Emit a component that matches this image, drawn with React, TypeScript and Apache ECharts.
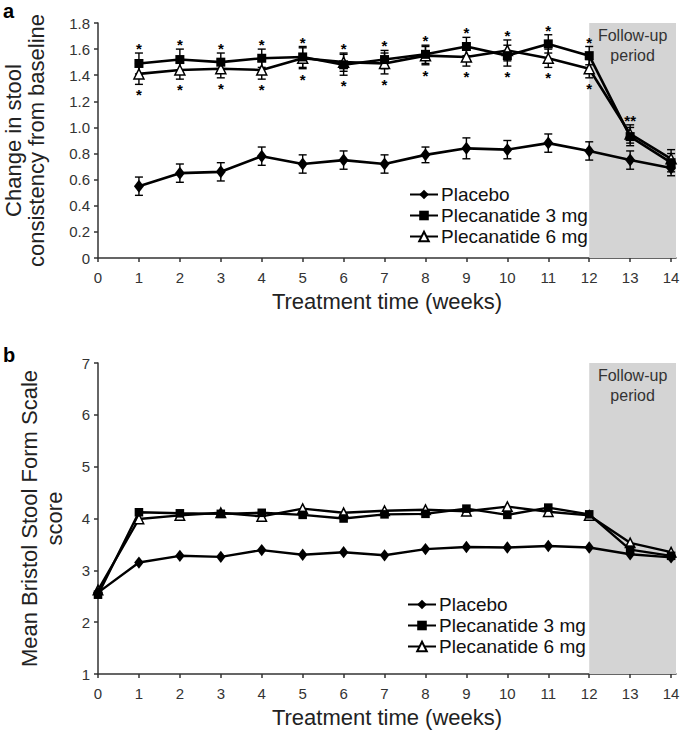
import React, { useEffect, useRef } from "react";
import * as echarts from "echarts";

const FONT = "'Liberation Sans', Arial, sans-serif";

// Panel a: change in stool consistency from baseline (weeks 1-14)
const weeksA = [1, 2, 3, 4, 5, 6, 7, 8, 9, 10, 11, 12, 13, 14];
const placeboA = [0.55, 0.65, 0.66, 0.78, 0.72, 0.75, 0.72, 0.79, 0.84, 0.83, 0.88, 0.82, 0.75, 0.69];
const plec3A = [1.49, 1.52, 1.5, 1.53, 1.54, 1.48, 1.52, 1.56, 1.62, 1.55, 1.64, 1.55, 0.93, 0.73];
const plec6A = [1.41, 1.44, 1.45, 1.44, 1.53, 1.5, 1.49, 1.55, 1.54, 1.59, 1.53, 1.45, 0.95, 0.76];
const placeboErrA = [0.07, 0.07, 0.07, 0.07, 0.07, 0.07, 0.07, 0.06, 0.08, 0.07, 0.07, 0.07, 0.07, 0.06];
const plec3ErrA = [0.08, 0.08, 0.07, 0.07, 0.08, 0.08, 0.07, 0.07, 0.07, 0.08, 0.07, 0.07, 0.07, 0.07];
const plec6ErrA = [0.08, 0.07, 0.07, 0.07, 0.08, 0.07, 0.08, 0.07, 0.07, 0.08, 0.07, 0.07, 0.07, 0.07];
const starAboveWeeks = [1, 2, 3, 4, 5, 6, 7, 8, 9, 10, 11, 12, 13];
const starAboveLabels = ["*", "*", "*", "*", "*", "*", "*", "*", "*", "*", "*", "*", "**"];
const starBelowWeeks = [1, 2, 3, 4, 5, 6, 7, 8, 9, 10, 11, 12];

// Panel b: mean Bristol Stool Form Scale score (weeks 0-14)
const weeksB = [0, 1, 2, 3, 4, 5, 6, 7, 8, 9, 10, 11, 12, 13, 14];
const placeboB = [2.57, 3.15, 3.28, 3.26, 3.39, 3.3, 3.35, 3.29, 3.41, 3.45, 3.44, 3.47, 3.44, 3.31, 3.25];
const plec3B = [2.53, 4.12, 4.1, 4.09, 4.11, 4.07, 4.0, 4.08, 4.09, 4.19, 4.07, 4.21, 4.08, 3.4, 3.28];
const plec6B = [2.62, 3.99, 4.06, 4.11, 4.04, 4.19, 4.11, 4.15, 4.17, 4.14, 4.23, 4.13, 4.06, 3.53, 3.35];

const xTicks = [0, 1, 2, 3, 4, 5, 6, 7, 8, 9, 10, 11, 12, 13, 14];
const seriesNames = ["Placebo", "Plecanatide 3 mg", "Plecanatide 6 mg"];

export default function App() {
  const ref = useRef<HTMLDivElement>(null);
  useEffect(() => {
    if (!ref.current) return;
    const chart = echarts.init(ref.current, undefined, { renderer: "svg" });

    const styles = [
      { symbol: "diamond", size: [10, 13], color: "#000" },
      { symbol: "rect", size: 9, color: "#000" },
      { symbol: "triangle", size: 10, color: "#fff" },
    ];

    const lineSeries = (name: string, idx: number, xs: number[], ys: number[], axis: number, lw: number, sizeScale: number) => {
      const st = styles[idx];
      const size = Array.isArray(st.size) ? st.size.map((s: number) => s * sizeScale) : (st.size as number) * sizeScale;
      return {
        type: "line",
        name,
        xAxisIndex: axis,
        yAxisIndex: axis,
        data: xs.map((x, i) => [x, ys[i]]),
        symbol: st.symbol,
        symbolSize: size,
        showAllSymbol: true,
        z: 5 + (2 - idx),
        lineStyle: { color: "#000", width: lw },
        itemStyle: { color: st.color, borderColor: "#000", borderWidth: idx === 2 ? 1.5 : 0 },
        emphasis: { disabled: true },
      };
    };

    const errSeries = (ys: number[], errs: number[]) => ({
      type: "custom",
      xAxisIndex: 0,
      yAxisIndex: 0,
      z: 3,
      silent: true,
      data: weeksA.map((w, i) => [w, ys[i] - errs[i], ys[i] + errs[i]]),
      encode: { x: 0, y: [1, 2] },
      renderItem: (params: any, api: any) => {
        const x = api.value(0);
        const p1 = api.coord([x, api.value(1)]);
        const p2 = api.coord([x, api.value(2)]);
        const cap = 4;
        const st = { stroke: "#000", lineWidth: 1.4 };
        return {
          type: "group",
          children: [
            { type: "line", shape: { x1: p1[0], y1: p1[1], x2: p2[0], y2: p2[1] }, style: st },
            { type: "line", shape: { x1: p1[0] - cap, y1: p1[1], x2: p1[0] + cap, y2: p1[1] }, style: st },
            { type: "line", shape: { x1: p2[0] - cap, y1: p2[1], x2: p2[0] + cap, y2: p2[1] }, style: st },
          ],
        };
      },
    });

    const starData: number[][] = [];
    const starText: string[] = [];
    starAboveWeeks.forEach((w, k) => {
      const i = weeksA.indexOf(w);
      const top = Math.max(plec3A[i] + plec3ErrA[i], plec6A[i] + plec6ErrA[i]);
      starData.push([w, top + 0.065]);
      starText.push(starAboveLabels[k]);
    });
    starBelowWeeks.forEach((w) => {
      const i = weeksA.indexOf(w);
      const bot = Math.min(plec3A[i] - plec3ErrA[i], plec6A[i] - plec6ErrA[i]);
      starData.push([w, bot - 0.05]);
      starText.push("*");
    });

    const axisLineStyle = { color: "#333", width: 1.5 };

    const xAxisCommon = {
      type: "value",
      min: 0,
      max: 14.12,
      interval: 1,
      axisLine: { show: true, lineStyle: axisLineStyle },
      axisTick: { show: true, length: 4, lineStyle: axisLineStyle, customValues: xTicks },
      axisLabel: { fontSize: 15, fontFamily: FONT, color: "#333", margin: 12, customValues: xTicks },
      splitLine: { show: false },
      name: "Treatment time (weeks)",
      nameLocation: "middle",
      nameGap: 32,
      nameTextStyle: { fontSize: 22, fontFamily: FONT, color: "#222" },
    };

    const shadeArea = (top: number, bottom: number) => ({
      silent: true,
      itemStyle: { color: "#d4d4d4" },
      label: {
        show: true,
        position: "insideTop",
        distance: 2,
        formatter: "Follow-up\nperiod",
        fontSize: 16,
        lineHeight: 20,
        fontFamily: FONT,
        color: "#333",
      },
      data: [[{ xAxis: 12, yAxis: top }, { xAxis: 14.12, yAxis: bottom }]],
    });

    const legendCommon = {
      orient: "vertical",
      itemGap: 2,
      itemWidth: 28,
      itemHeight: 12,
      data: seriesNames,
      selectedMode: false,
      textStyle: { fontSize: 19, fontFamily: FONT, color: "#111", lineHeight: 19, padding: [0, 0, 0, -2] },
    };

    const option: any = {
      animation: false,
      backgroundColor: "#fff",
      textStyle: { fontFamily: FONT },
      grid: [
        { left: 98, top: 23, width: 578, height: 235, outerBoundsMode: "none", containLabel: false },
        { left: 98, top: 363, width: 578, height: 311, outerBoundsMode: "none", containLabel: false },
      ],
      xAxis: [
        { ...xAxisCommon, gridIndex: 0 },
        { ...xAxisCommon, gridIndex: 1 },
      ],
      yAxis: [
        {
          type: "value",
          gridIndex: 0,
          min: 0,
          max: 1.8,
          interval: 0.2,
          axisLine: { show: true, lineStyle: axisLineStyle },
          axisTick: { show: true, length: 4, lineStyle: axisLineStyle },
          axisLabel: {
            fontSize: 15,
            fontFamily: FONT,
            color: "#333",
            margin: 8,
            formatter: (v: number) => (v === 0 ? "0" : v.toFixed(1)),
          },
          splitLine: { show: false },
          name: "Change in stool\nconsistency from baseline",
          nameLocation: "middle",
          nameGap: 50,
          nameTextStyle: { fontSize: 22, lineHeight: 23, fontFamily: FONT, color: "#222" },
        },
        {
          type: "value",
          gridIndex: 1,
          min: 1,
          max: 7,
          interval: 1,
          axisLine: { show: true, lineStyle: axisLineStyle },
          axisTick: { show: true, length: 4, lineStyle: axisLineStyle },
          axisLabel: { fontSize: 15, fontFamily: FONT, color: "#333", margin: 8 },
          splitLine: { show: false },
          name: "Mean Bristol Stool Form Scale\nscore",
          nameLocation: "middle",
          nameGap: 31,
          nameTextStyle: { fontSize: 22, lineHeight: 25, fontFamily: FONT, color: "#222" },
        },
      ],
      legend: [
        { ...legendCommon, left: 404, top: 180 },
        { ...legendCommon, left: 402, top: 590 },
      ],
      graphic: [
        { type: "text", left: 3, top: 1, style: { text: "a", fontSize: 20, fontWeight: "bold", fontFamily: FONT, fill: "#000" } },
        { type: "text", left: 3, top: 345, style: { text: "b", fontSize: 20, fontWeight: "bold", fontFamily: FONT, fill: "#000" } },
      ],
      series: [
        { type: "line", name: "shadeA", xAxisIndex: 0, yAxisIndex: 0, data: [], z: 1, markArea: shadeArea(1.8, 0) },
        { type: "line", name: "shadeB", xAxisIndex: 1, yAxisIndex: 1, data: [], z: 1, markArea: shadeArea(7, 1) },
        errSeries(placeboA, placeboErrA),
        errSeries(plec3A, plec3ErrA),
        errSeries(plec6A, plec6ErrA),
        lineSeries(seriesNames[0], 0, weeksA, placeboA, 0, 2.6, 1),
        lineSeries(seriesNames[1], 1, weeksA, plec3A, 0, 2.6, 1),
        lineSeries(seriesNames[2], 2, weeksA, plec6A, 0, 2.6, 1),
        lineSeries(seriesNames[0], 0, weeksB, placeboB, 1, 2.4, 0.95),
        lineSeries(seriesNames[1], 1, weeksB, plec3B, 1, 2.4, 0.95),
        lineSeries(seriesNames[2], 2, weeksB, plec6B, 1, 2.4, 0.95),
        {
          type: "custom",
          name: "stars",
          xAxisIndex: 0,
          yAxisIndex: 0,
          z: 9,
          silent: true,
          data: starData,
          encode: { x: 0, y: 1 },
          renderItem: (params: any, api: any) => {
            const p = api.coord([api.value(0), api.value(1)]);
            return {
              type: "text",
              x: p[0],
              y: p[1] + 4,
              style: {
                text: starText[params.dataIndex],
                fontSize: 15,
                fontWeight: "bold",
                fontFamily: FONT,
                fill: "#000",
                align: "center",
                verticalAlign: "middle",
              },
            };
          },
        },
      ],
    };

    chart.setOption(option);
    return () => chart.dispose();
  }, []);

  return (
    <div
      ref={ref}
      style={{ position: "absolute", left: 0, top: 0, width: 683, height: 734, background: "#fff" }}
    />
  );
}
